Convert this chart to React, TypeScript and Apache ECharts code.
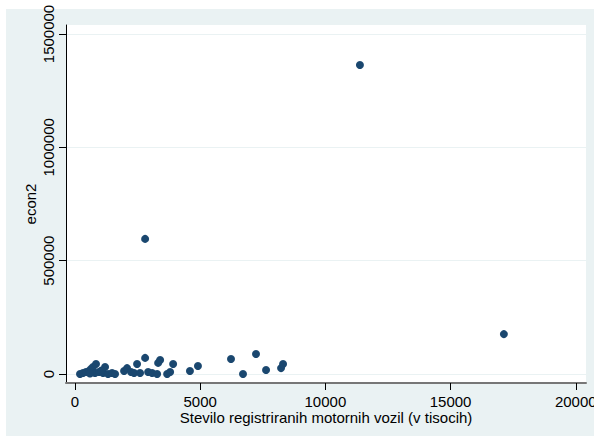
import React, { useEffect, useRef } from "react";
import * as echarts from "echarts";

const xVals = [200, 320, 440, 560, 640, 720, 840, 800, 960, 1120, 1200, 1320, 1480, 1600, 1960, 2080, 2240, 2360, 2480, 2600, 2800, 2920, 3080, 3280, 3320, 3400, 3680, 3800, 3920, 4590, 4910, 6230, 6710, 7230, 7630, 8230, 8310, 2800, 11380, 17130, 600, 1050];
const yVals = [0, 4400, 8800, 13000, 22000, 31000, 44000, 4400, 8800, 4400, 31000, 0, 4400, 0, 13000, 26000, 8800, 4400, 44000, 4400, 71000, 8800, 4400, 0, 49000, 62000, 0, 8800, 44000, 13000, 35000, 66000, 0, 88000, 17600, 26000, 44000, 596000, 1363000, 176000, 2000, 15000];
const xTicks = [0, 5000, 10000, 15000, 20000];
const yTicks = [0, 500000, 1000000, 1500000];
const xTitle = "Stevilo registriranih motornih vozil (v tisocih)";
const yTitle = "econ2";

export default function App() {
  const ref = useRef<HTMLDivElement>(null);
  useEffect(() => {
    const chart = echarts.init(ref.current!, null, { renderer: "svg" });
    const font = "'Liberation Sans', Arial, sans-serif";
    const data = xVals.map((x, i) => [x, yVals[i]]);
    const fmt = (v: number) => String(v);
    chart.setOption({
      animation: false,
      textStyle: { fontFamily: font },
      grid: [
        { left: 66, right: 8, top: 25, bottom: 53, show: true, backgroundColor: "#ffffff", borderWidth: 0, containLabel: false, outerBoundsMode: "none" },
        { left: 66, right: 8, top: 34, bottom: 62, show: false, containLabel: false, outerBoundsMode: "none" },
      ],
      xAxis: [
        {
          type: "value",
          gridIndex: 0,
          min: -359,
          max: 20409,
          axisLine: { show: true, onZero: false, lineStyle: { color: "#777777", width: 2 } },
          axisTick: { show: true, customValues: xTicks, length: 7, lineStyle: { color: "#000000", width: 1 } },
          axisLabel: { customValues: xTicks, formatter: fmt, color: "#000000", fontSize: 15, lineHeight: 15, margin: 11, fontFamily: font, hideOverlap: false },
          splitLine: { show: false },
          name: xTitle,
          nameLocation: "middle",
          nameGap: 27,
          nameMoveOverlap: false,
          nameTextStyle: { color: "#000000", fontSize: 15, lineHeight: 15, fontFamily: font },
        },
        { type: "value", gridIndex: 1, show: false, min: 0, max: 1 },
      ],
      yAxis: [
        {
          type: "value",
          gridIndex: 0,
          min: -39700,
          max: 1539700,
          axisLine: { show: true, onZero: false, lineStyle: { color: "#000000", width: 1 } },
          axisTick: { show: true, customValues: yTicks, length: 7, lineStyle: { color: "#000000", width: 1 } },
          axisLabel: { customValues: yTicks, formatter: fmt, rotate: 90, color: "#000000", fontSize: 15, margin: 10, fontFamily: font },
          splitLine: { show: false },
          name: yTitle,
          nameLocation: "middle",
          nameRotate: 90,
          nameGap: 28,
          nameMoveOverlap: false,
          nameTextStyle: { color: "#000000", fontSize: 15, fontFamily: font },
        },
        {
          type: "value",
          gridIndex: 1,
          min: 0,
          max: 1500000,
          interval: 500000,
          axisLine: { show: false },
          axisTick: { show: false },
          axisLabel: { show: false },
          splitLine: { show: true, lineStyle: { color: "#eaf2f3", width: 1 } },
        },
      ],
      series: [
        {
          type: "scatter",
          xAxisIndex: 0,
          yAxisIndex: 0,
          data,
          symbolSize: 8,
          itemStyle: { color: "#1a476f", opacity: 1 },
        },
      ],
    });
    return () => chart.dispose();
  }, []);
  return (
    <div style={{ position: "absolute", left: 0, top: 0, width: 594, height: 436, background: "#ffffff" }}>
      <div style={{ position: "absolute", left: 6, top: 9, width: 588, height: 427, background: "#eaf2f3" }} />
      <div ref={ref} style={{ position: "absolute", left: 0, top: 0, width: 594, height: 436 }} />
    </div>
  );
}
